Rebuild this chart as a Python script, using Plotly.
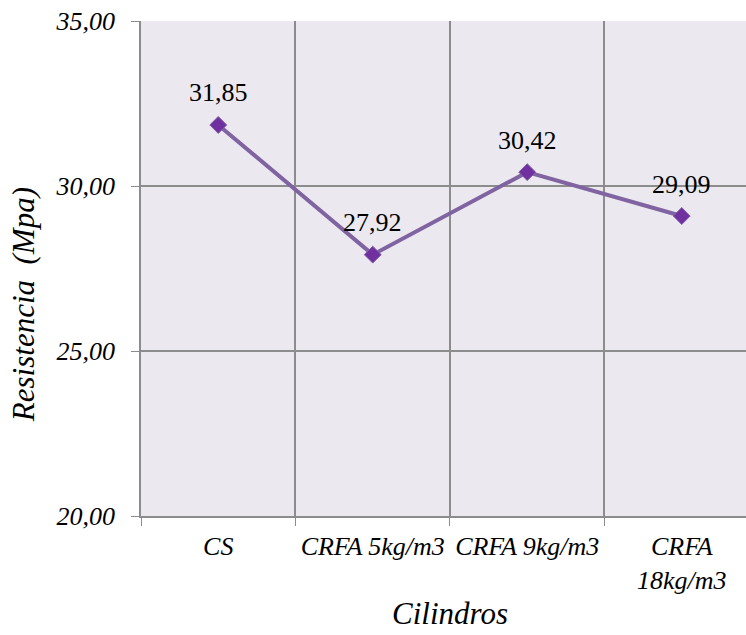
import plotly.graph_objects as go

categories = ["CS", "CRFA 5kg/m3", "CRFA 9kg/m3", "CRFA<br>18kg/m3"]
values = [31.85, 27.92, 30.42, 29.09]
labels = ["31,85", "27,92", "30,42", "29,09"]
y_ticks = [20, 25, 30, 35]
y_tick_text = ["20,00", "25,00", "30,00", "35,00"]

font_family = "Liberation Serif"
grid_col = "#8C8C8C"

fig = go.Figure()
fig.add_trace(go.Scatter(
    x=categories, y=values, mode="lines+markers",
    line=dict(color="#8064A2", width=4),
    marker=dict(symbol="diamond", size=13, color="#7030A0",
                line=dict(color="#7F5FA8", width=1)),
    hoverinfo="skip", showlegend=False,
))

for c, v, t in zip(categories, values, labels):
    fig.add_annotation(x=c, y=v, text=t, showarrow=False, yshift=32,
                       font=dict(family=font_family, size=26, color="black"))

fig.add_annotation(xref="paper", yref="paper", x=-0.195, y=0.426, text="<i>Resistencia  (Mpa)</i>",
                   textangle=-90, showarrow=False, xanchor="center", yanchor="middle",
                   font=dict(family=font_family, size=31, color="black"))
fig.add_annotation(xref="paper", yref="paper", x=0.511, y=-0.236, text="<i>Cilindros</i>",
                   showarrow=False, xanchor="center", yanchor="bottom",
                   font=dict(family=font_family, size=31, color="black"))

fig.update_layout(
    width=746, height=635,
    margin=dict(l=141, r=0, t=21, b=119),
    paper_bgcolor="white", plot_bgcolor="#EBE9EF",
    separators=",.",
    font=dict(family=font_family, color="black"),
)
fig.update_xaxes(
    type="category", range=[-0.5, 3.416],
    tickvals=categories, ticktext=["<i>" + c + "</i>" for c in categories],
    tickson="boundaries", ticks="outside", ticklen=8, tickcolor=grid_col,
    showgrid=True, gridcolor=grid_col, gridwidth=1.5,
    showline=True, linecolor=grid_col, linewidth=1.5,
    tickangle=0, ticklabelstandoff=6,
    tickfont=dict(family=font_family, size=26, color="black"),
)
fig.update_yaxes(
    range=[20, 35], tickvals=y_ticks, ticktext=["<i>" + t + "</i>" for t in y_tick_text],
    ticks="outside", ticklen=8, tickcolor=grid_col,
    showgrid=True, gridcolor=grid_col, gridwidth=1.5,
    showline=True, linecolor=grid_col, linewidth=1.5,
    tickfont=dict(family=font_family, size=26, color="black"),
    ticklabelstandoff=11, zeroline=False,
)

fig.write_html("out.html")
